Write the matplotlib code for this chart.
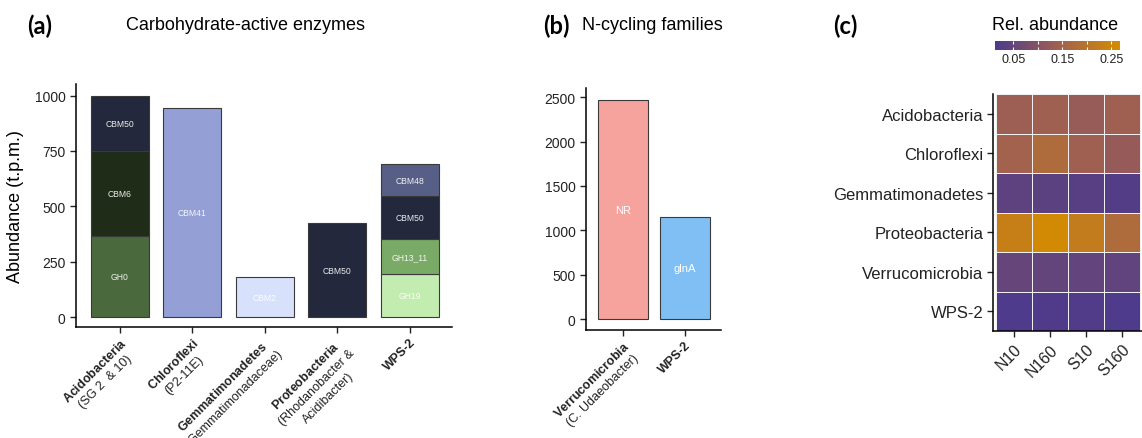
import matplotlib
matplotlib.use("Agg")
import matplotlib.pyplot as plt
import numpy as np
from matplotlib.colors import LinearSegmentedColormap

plt.rcParams["font.family"] = ["Liberation Sans", "DejaVu Sans"]
plt.rcParams["mathtext.fontset"] = "custom"
plt.rcParams["mathtext.rm"] = "Liberation Sans"
plt.rcParams["mathtext.bf"] = "Liberation Sans:bold"

# ---- (a) carbohydrate-active enzymes, stacked per taxon ----
cazy_taxa = ["Acidobacteria", "Chloroflexi", "Gemmatimonadetes", "Proteobacteria", "WPS-2"]
cazy_subtitles = ["(SG 2  & 10)", "(P2-11E)", "(Gemmatimonadaceae)",
                  "(Rhodanobacter &\nAcidibacter)", ""]
seg_taxon = ["Acidobacteria", "Acidobacteria", "Acidobacteria", "Chloroflexi",
             "Gemmatimonadetes", "Proteobacteria", "WPS-2", "WPS-2", "WPS-2", "WPS-2"]
seg_family = ["GH0", "CBM6", "CBM50", "CBM41", "CBM2", "CBM50",
              "GH19", "GH13_11", "CBM50", "CBM48"]
seg_value = [368, 382, 250, 945, 180, 424, 193, 159, 193, 148]

# ---- (b) N-cycling families ----
ncyc_taxa = ["Verrucomicrobia", "WPS-2"]
ncyc_subtitles = ["(C. Udaeobacter)", ""]
ncyc_gene = ["NR", "glnA"]
ncyc_value = [2465, 1150]

# ---- (c) relative abundance heatmap ----
heat_taxa = ["Acidobacteria", "Chloroflexi", "Gemmatimonadetes",
             "Proteobacteria", "Verrucomicrobia", "WPS-2"]
heat_samples = ["N10", "N160", "S10", "S160"]
heat_values = [
    [0.138, 0.142, 0.128, 0.142],
    [0.148, 0.175, 0.142, 0.126],
    [0.040, 0.038, 0.031, 0.025],
    [0.232, 0.262, 0.222, 0.175],
    [0.053, 0.050, 0.048, 0.046],
    [0.016, 0.017, 0.019, 0.016],
]

family_colors = {
    "GH0": "#4a6a3d", "CBM6": "#1f2d18", "CBM50": "#23283c", "CBM41": "#939fd5",
    "CBM2": "#d8e1fb", "GH19": "#c3ecb1", "GH13_11": "#7aab66", "CBM48": "#585f86",
}
gene_colors = {"NR": "#f6a39e", "glnA": "#80bff3"}

W, H = 1142, 439
fig = plt.figure(figsize=(W / 100, H / 100), dpi=100)


def axes_px(left, top, right, bottom):
    return fig.add_axes([left / W, 1 - bottom / H, (right - left) / W, (bottom - top) / H])


def style_axes(ax):
    for s in ("top", "right"):
        ax.spines[s].set_visible(False)
    for s in ("left", "bottom"):
        ax.spines[s].set_linewidth(1.1)
    ax.tick_params(length=4, width=1.0, color="#222222", labelcolor="#222222")


def tick_text(name, sub):
    if sub:
        return r"$\bf{" + name + "}$" + "\n" + sub
    return name


def taxon_ticklabels(ax, names, subs):
    ax.set_xticks(range(len(names)))
    ax.set_xticklabels([tick_text(n, s) for n, s in zip(names, subs)],
                       rotation=45, ha="right", va="top", rotation_mode="anchor",
                       multialignment="center", fontsize=9, linespacing=1.35)
    ax.tick_params(axis="x", pad=2)
    for lbl, sub in zip(ax.get_xticklabels(), subs):
        if not sub:
            lbl.set_fontweight("bold")


edge = "#3a3a3a"

# (a)
ax = axes_px(76, 85, 452, 328)
style_axes(ax)
bottoms = {t: 0 for t in cazy_taxa}
for taxon, fam, val in zip(seg_taxon, seg_family, seg_value):
    xi = cazy_taxa.index(taxon)
    b0 = bottoms[taxon]
    ax.bar(xi, val, bottom=b0, width=0.8, color=family_colors[fam],
           edgecolor=edge, linewidth=0.8)
    ax.text(xi, b0 + val / 2, fam, ha="center", va="center",
            fontsize=6.2, color="white", alpha=0.9)
    bottoms[taxon] = b0 + val
ax.set_xlim(-0.607, 4.58)
ax.set_ylim(-44, 1052)
ax.set_yticks([0, 250, 500, 750, 1000])
ax.tick_params(axis="y", labelsize=10)
taxon_ticklabels(ax, cazy_taxa, cazy_subtitles)
ax.set_ylabel("Abundance (t.p.m.)", fontsize=13)
ax.yaxis.set_label_coords(-0.138, 0.5)

# (b)
bx = axes_px(586, 89, 721, 331)
style_axes(bx)
for i, (gene, val) in enumerate(zip(ncyc_gene, ncyc_value)):
    bx.bar(i, val, width=0.8, color=gene_colors[gene], edgecolor=edge, linewidth=0.8)
    bx.text(i, val / 2, gene, ha="center", va="center", fontsize=8, color="white")
bx.set_xlim(-0.597, 1.58)
bx.set_ylim(-124, 2605)
bx.set_yticks([0, 500, 1000, 1500, 2000, 2500])
bx.tick_params(axis="y", labelsize=10)
taxon_ticklabels(bx, ncyc_taxa, ncyc_subtitles)

# (c)
cmap = LinearSegmentedColormap.from_list(
    "purple_orange", ["#4c3a8c", "#9f5f52", "#d58c00"])
vmin, vmax = 0.013, 0.268
cx = axes_px(993, 95, 1142, 332)
style_axes(cx)
vals = np.array(heat_values)
mesh = cx.pcolormesh(np.arange(len(heat_samples) + 1) - 0.5,
                     np.arange(len(heat_taxa) + 1) - 0.5, vals,
                     cmap=cmap, vmin=vmin, vmax=vmax,
                     edgecolors="#f0f0f0", linewidth=0.55)
cx.set_xlim(-0.583, 3.556)
cx.set_ylim(len(heat_taxa) - 0.5, -0.5)
cx.set_xticks(range(len(heat_samples)))
cx.set_xticklabels(heat_samples, rotation=45, ha="right", va="top",
                   rotation_mode="anchor", fontsize=11.5)
cx.set_yticks(range(len(heat_taxa)))
cx.set_yticklabels(heat_taxa, fontsize=12)
cx.tick_params(axis="y", pad=3)

cax = axes_px(995, 42, 1120, 51)
cb = fig.colorbar(mesh, cax=cax, orientation="horizontal")
cb.outline.set_visible(False)
cb.set_ticks([0.05, 0.15, 0.25])
cb.set_ticklabels(["0.05", "0.15", "0.25"])
cax.set_xticks([0.10, 0.20], minor=True)
cax.tick_params(which="both", direction="in", length=2.2, width=0.8, color="white",
                top=True, bottom=True, labelsize=9, labelcolor="#222222", pad=2)

# panel headings
fig.text(40 / W, 1 - 26 / H, "(a)", fontsize=17, fontweight="bold", family="Lato",
         ha="center", va="center")
fig.text(245 / W, 1 - 25 / H, "Carbohydrate-active enzymes", fontsize=13,
         ha="center", va="center")
fig.text(556 / W, 1 - 26 / H, "(b)", fontsize=17, fontweight="bold", family="Lato",
         ha="center", va="center")
fig.text(582 / W, 1 - 25 / H, "N-cycling families", fontsize=13,
         ha="left", va="center")
fig.text(845 / W, 1 - 26 / H, "(c)", fontsize=17, fontweight="bold", family="Lato",
         ha="center", va="center")
fig.text(1055 / W, 1 - 25 / H, "Rel. abundance", fontsize=13,
         ha="center", va="center")

fig.savefig("out.png", dpi=100)
